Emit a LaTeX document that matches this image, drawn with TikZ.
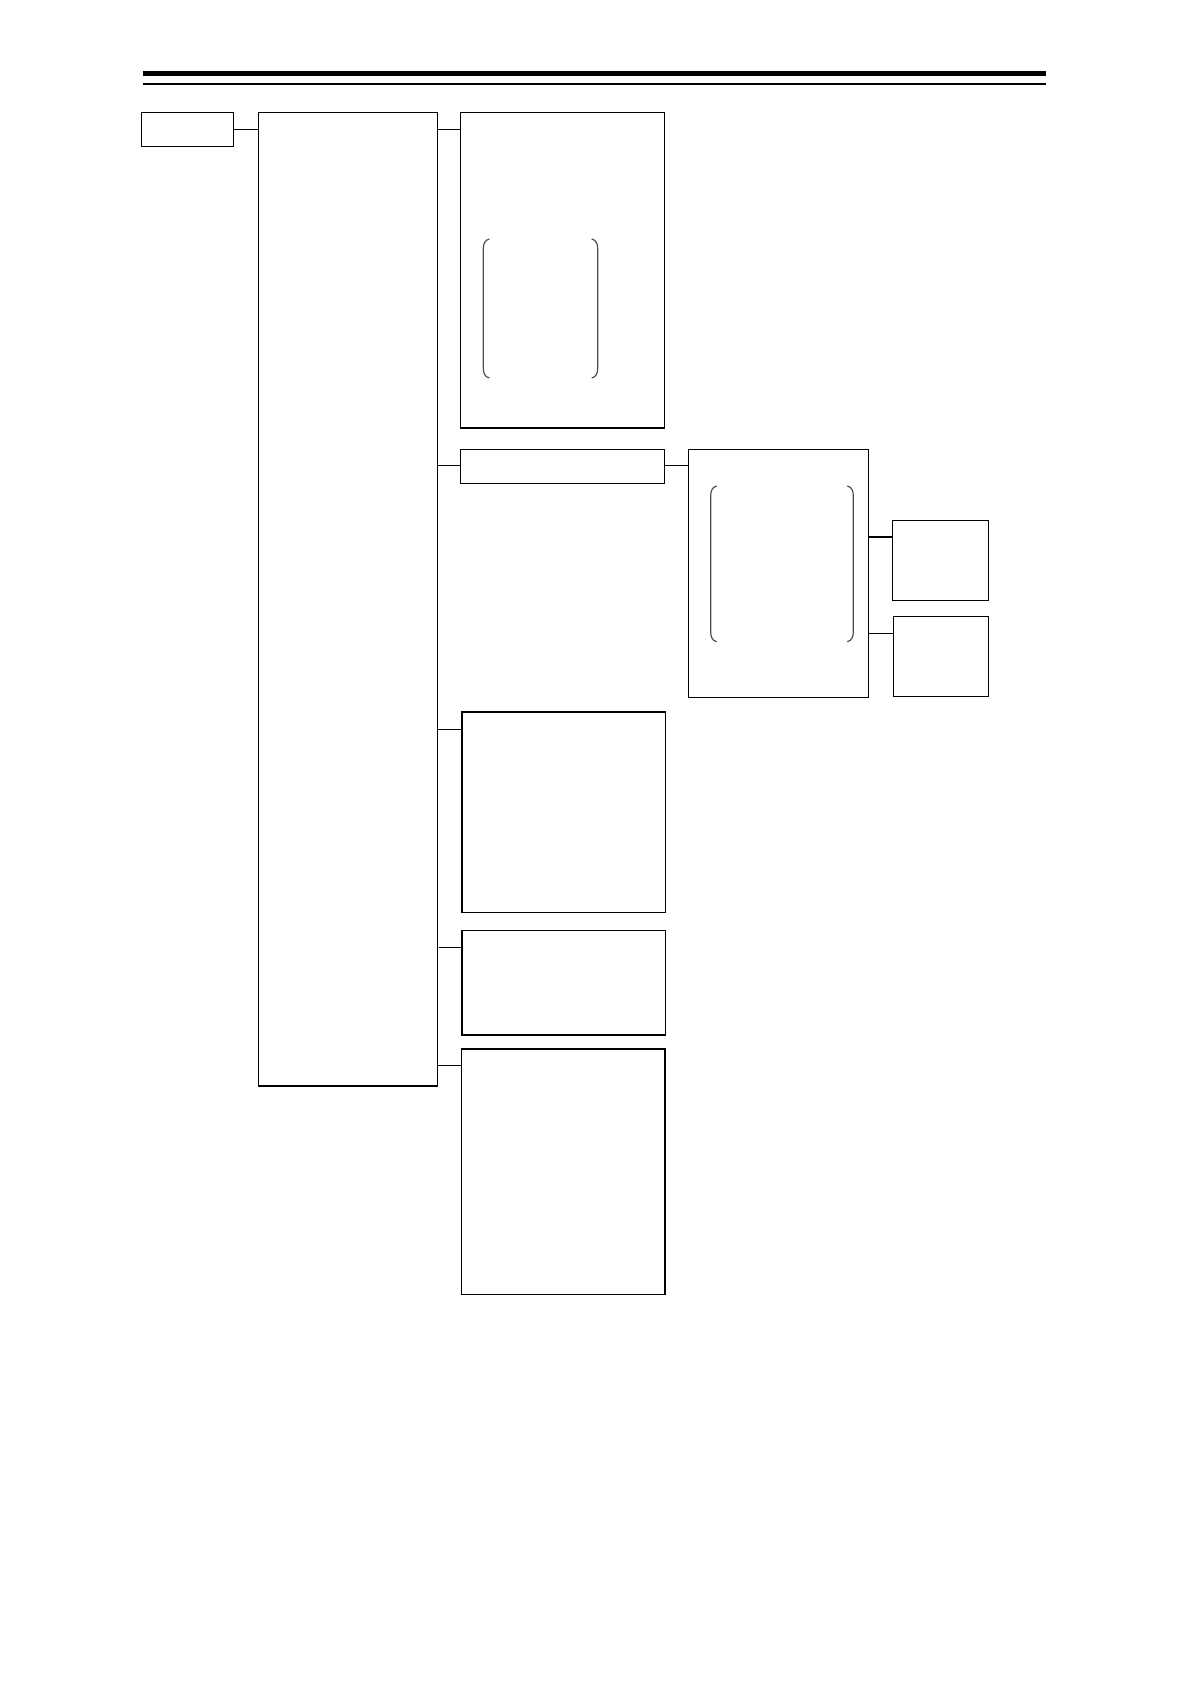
\documentclass[tikz,border=0pt]{standalone}
\usetikzlibrary{calc}
\newcommand\lbrk[3]{\draw[brk] (#1+6,#2) .. controls (#1+1.5,#2+1) and (#1,#2+5) .. (#1,#2+10) -- (#1,#3-10) .. controls (#1,#3-5) and (#1+1.5,#3-1) .. (#1+6,#3);}
\newcommand\rbrk[3]{\draw[brk] (#1-6,#2) .. controls (#1-1.5,#2+1) and (#1,#2+5) .. (#1,#2+10) -- (#1,#3-10) .. controls (#1,#3-5) and (#1-1.5,#3-1) .. (#1-6,#3);}
\begin{document}
\begin{tikzpicture}[x=0.5pt,y=-0.5pt,
  box/.style={draw, line width=0.7pt, rectangle, inner sep=0pt, outer sep=0pt, anchor=north west},
  conn/.style={line width=0.7pt},
  brk/.style={draw=black!70, line width=0.6pt}]
\useasboundingbox (0,0) rectangle (1191,1684);
% header rules
\draw[line width=2.5pt] (143,73.5) -- (1046,73.5);
\draw[line width=1pt] (143,83.7) -- (1046,83.7);
% boxes
\node[box, minimum width=46.2pt, minimum height=17pt] (root) at (141.3,112.3) {};
\node[box, minimum width=89.5pt, minimum height=486.85pt] (main) at (258.3,112.3) {};
\node[box, minimum width=101.8pt, minimum height=157.85pt] (c1) at (460.7,112.3) {};
\node[box, minimum width=101.8pt, minimum height=17pt] (c2) at (460.7,449.3) {};
\node[box, minimum width=90.2pt, minimum height=124pt] (g) at (688.3,449.3) {};
\node[box, minimum width=48.2pt, minimum height=40pt] (l1) at (892.3,520.3) {};
\node[box, minimum width=47.7pt, minimum height=40pt] (l2) at (893.3,616.3) {};
\node[box, minimum width=101.65pt, minimum height=100.25pt] (c3) at (462,712) {};
\node[box, minimum width=101.65pt, minimum height=52.3pt] (c4) at (462,930.4) {};
\node[box, minimum width=101.75pt, minimum height=122.75pt] (c5) at (461.3,1048.8) {};
% connector anchors
\coordinate (k1) at ($(c1.north west)+(0,17)$);
\coordinate (k2) at ($(c2.north west)+(0,16)$);
\coordinate (k3) at ($(c3.north west)+(0,17.3)$);
\coordinate (k4) at ($(c4.north west)+(0,17)$);
\coordinate (k5) at ($(c5.north west)+(0,16.5)$);
\coordinate (kg) at ($(g.north west)+(0,16)$);
\coordinate (kl1) at ($(l1.north west)+(0,16.7)$);
\coordinate (kl2) at ($(l2.north west)+(0,17)$);
% connectors
\draw[conn] (root.east) -- (root.east -| main.west);
\draw[conn] (k1 -| main.east) -- (k1);
\draw[conn] (k2 -| main.east) -- (k2);
\draw[conn] (k3 -| main.east) -- (k3);
\draw[conn] ($(k4 -| main.east)+(1.7,0)$) -- (k4);
\draw[conn] (k5 -| main.east) -- (k5);
\draw[conn] (kg -| c2.east) -- (kg);
\draw[conn] (kl1 -| g.east) -- (kl1);
\draw[conn] (kl2 -| g.east) -- (kl2);
% brackets
\lbrk{483.3}{239}{378}
\rbrk{597.7}{239}{378}
\lbrk{710.7}{486}{641.7}
\rbrk{853.3}{486}{641.7}
\end{tikzpicture}
\end{document}
